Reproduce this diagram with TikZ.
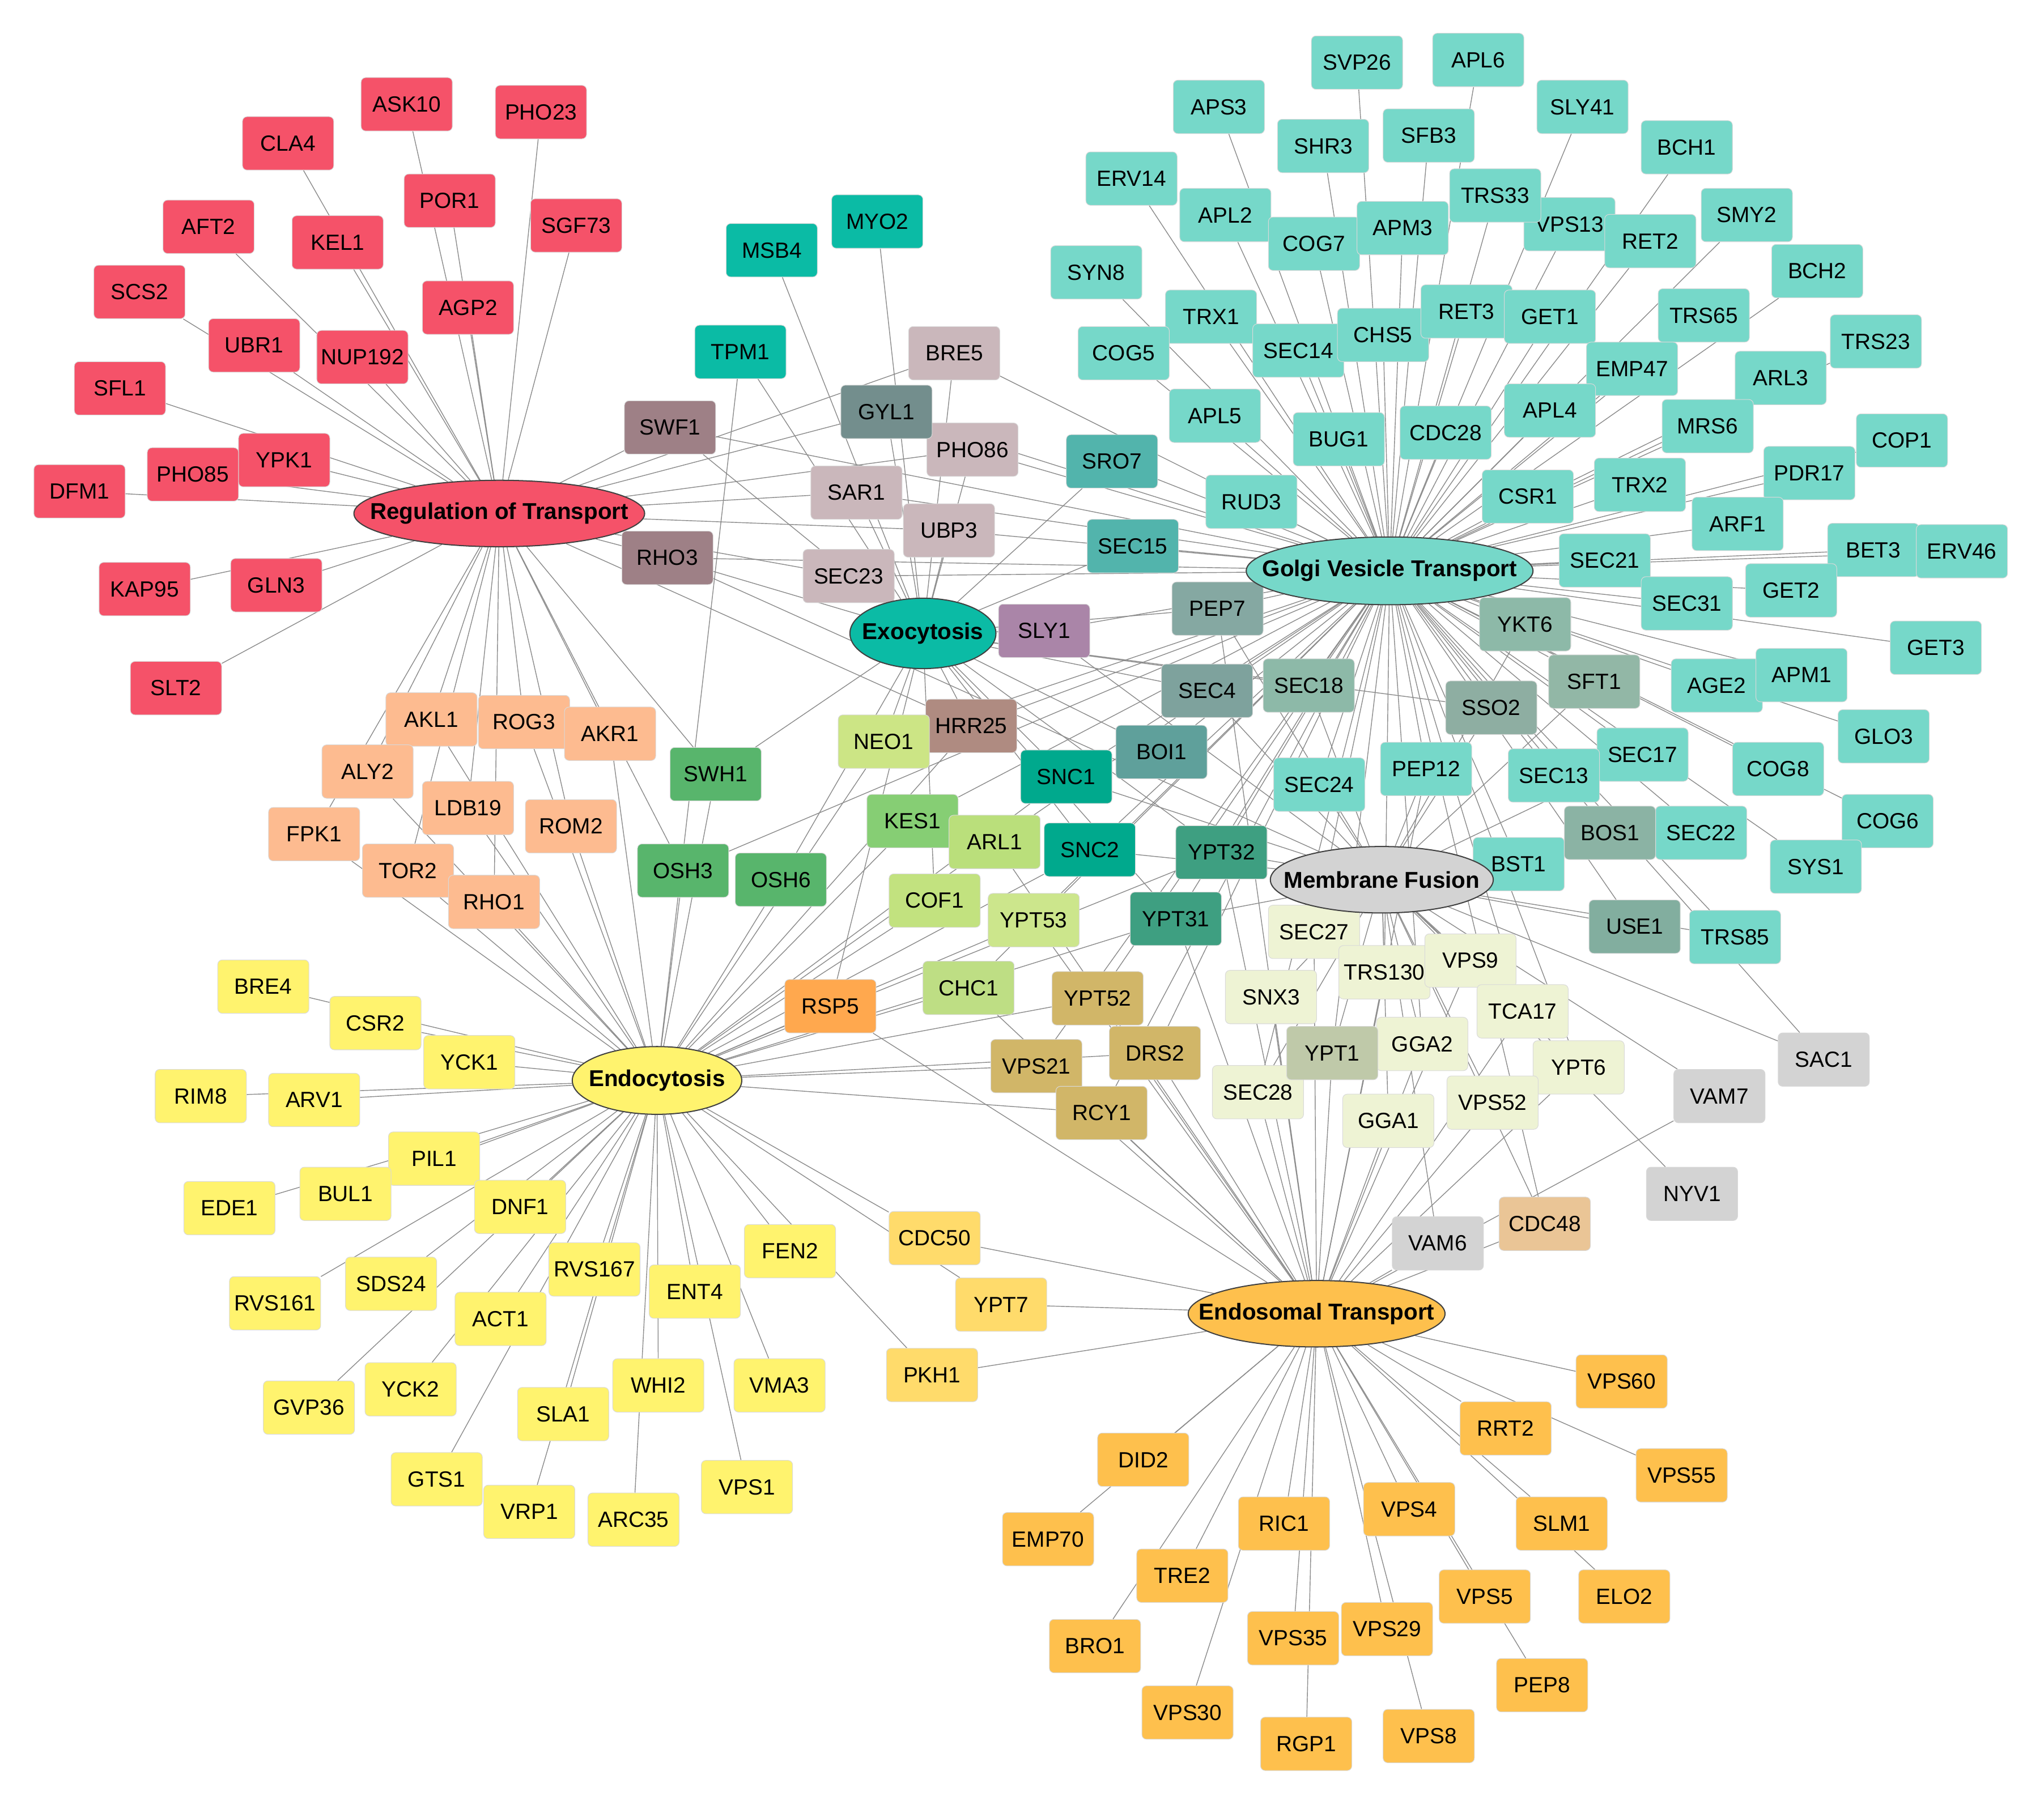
\documentclass[tikz,border=0pt]{standalone}
\usepackage{fontspec}
\setmainfont{Liberation Sans}
\usetikzlibrary{shapes.geometric,backgrounds}
\definecolor{cRed}{HTML}{F55269}
\definecolor{cMauve}{HTML}{9E8086}
\definecolor{cGyl}{HTML}{738E8D}
\definecolor{cPink}{HTML}{CAB7BB}
\definecolor{cSly}{HTML}{AA85A8}
\definecolor{cExo}{HTML}{0BBBA5}
\definecolor{cGolgi}{HTML}{76D8C9}
\definecolor{cSro}{HTML}{52B4AC}
\definecolor{cPep}{HTML}{85A8A2}
\definecolor{cSecf}{HTML}{7EA29D}
\definecolor{cYkt}{HTML}{8DB9A8}
\definecolor{cSft}{HTML}{92B7A6}
\definecolor{cSso}{HTML}{8EAEA2}
\definecolor{cBos}{HTML}{8BB3A4}
\definecolor{cUse}{HTML}{82AE9F}
\definecolor{cBoi}{HTML}{5FA09B}
\definecolor{cSnc}{HTML}{00A98D}
\definecolor{cYpt}{HTML}{3E9F81}
\definecolor{cHrr}{HTML}{AF8B81}
\definecolor{cNeo}{HTML}{CCE585}
\definecolor{cKes}{HTML}{86CE74}
\definecolor{cArl}{HTML}{BADF7B}
\definecolor{cCof}{HTML}{C2E27F}
\definecolor{cYptf}{HTML}{CCE68C}
\definecolor{cChc}{HTML}{BEDE84}
\definecolor{cOsh}{HTML}{58B56C}
\definecolor{cPeach}{HTML}{FDBB90}
\definecolor{cRsp}{HTML}{FFA84E}
\definecolor{cKhaki}{HTML}{D1B668}
\definecolor{cPale}{HTML}{EEF3D4}
\definecolor{cYptone}{HTML}{BFC9A9}
\definecolor{cGray}{HTML}{D3D3D3}
\definecolor{cCdc}{HTML}{EAC596}
\definecolor{cYellow}{HTML}{FFF36E}
\definecolor{cLtOrange}{HTML}{FFDB6B}
\definecolor{cOrange}{HTML}{FEC04D}
\tikzset{
  gene/.style={rectangle, rounded corners=0.7mm, minimum width=14mm, minimum height=8.2mm,
    inner sep=0pt, font=\fontsize{9.6}{11}\selectfont, fill=#1, draw=black!15, line width=0.25pt},
  hub/.style={ellipse, draw=black!75, line width=0.5pt, inner sep=0pt, fill=#1,
    font=\fontsize{10}{12}\selectfont\bfseries},
  link/.style={draw=black!45, line width=0.35pt}
}
\begin{document}
\begin{tikzpicture}[x=0.2mm, y=-0.2mm]
\useasboundingbox (0,0) rectangle (1568,1388);
% ---------- red ----------
\foreach \n/\x/\y in {ASK10/312/80, PHO23/415/86, CLA4/221/110, POR1/345/154, SGF73/442/173,
  AFT2/160/174, KEL1/259/186, AGP2/359/236, SCS2/107/224, UBR1/195/265, NUP192/278/274,
  SFL1/92/298, YPK1/218/353, PHO85/148/364, DFM1/61/377, KAP95/111/452, GLN3/212/449, SLT2/135/528}
  \node[gene=cRed] (\n) at (\x,\y) {\n};
\node[gene=cMauve] (SWF1) at (514,328) {SWF1};
\node[gene=cMauve] (RHO3) at (512,428) {RHO3};
\node[gene=cPink] (BRE5) at (732,271) {BRE5};
\node[gene=cPink] (PHO86) at (746,345) {PHO86};
\node[gene=cGyl] (GYL1) at (680,316) {GYL1};
\node[gene=cPink] (SAR1) at (657,378) {SAR1};
\node[gene=cPink] (UBP3) at (728,407) {UBP3};
\node[gene=cPink] (SEC23) at (651,442) {SEC23};
\node[gene=cSly] (SLY1) at (801,484) {SLY1};
\node[gene=cExo] (MSB4) at (592,192) {MSB4};
\node[gene=cExo] (MYO2) at (673,170) {MYO2};
\node[gene=cExo] (TPM1) at (568,270) {TPM1};
% ---------- golgi ----------
\foreach \n/\x/\y in {SVP26/1041/48, APL6/1134/46, APS3/935/82, SHR3/1015/112, SFB3/1096/104,
  SLY41/1214/82, BCH1/1294/113, ERV14/868/137, APL2/940/165, COG7/1008/187, APM3/1076/175,
  VPS13/1204/172, TRS33/1147/150, RET2/1266/185, SMY2/1340/165, SYN8/841/209, BCH2/1394/208,
  TRX1/929/243, SEC14/996/269, CHS5/1061/257, RET3/1125/239, GET1/1189/243, TRS65/1307/242,
  TRS23/1439/262, COG5/862/271, EMP47/1252/283, ARL3/1366/290, APL5/932/319, BUG1/1027/337,
  CDC28/1109/332, APL4/1189/315, MRS6/1310/327, COP1/1459/338, RUD3/960/385, CSR1/1172/381,
  TRX2/1258/372, PDR17/1388/363, ARF1/1333/402, SEC21/1231/430, BET3/1437/422, ERV46/1505/423,
  SEC31/1294/463, GET2/1374/453, GET3/1485/497, AGE2/1317/526, APM1/1382/518, GLO3/1445/565,
  SEC17/1260/579, COG8/1364/590, SEC13/1192/595, SEC22/1305/639, COG6/1448/630, SYS1/1393/665,
  BST1/1165/663, TRS85/1331/719, SEC24/1012/602, PEP12/1094/590}
  \node[gene=cGolgi] (\n) at (\x,\y) {\n};
\node[gene=cSro] (SRO7) at (853,354) {SRO7};
\node[gene=cSro] (SEC15) at (869,419) {SEC15};
\node[gene=cPep] (PEP7) at (934,467) {PEP7};
\node[gene=cYkt] (YKT6) at (1170,479) {YKT6};
\node[gene=cSecf] (SEC4) at (926,530) {SEC4};
\node[gene=cYkt] (SEC18) at (1004,526) {SEC18};
\node[gene=cSft] (SFT1) at (1223,523) {SFT1};
\node[gene=cSso] (SSO2) at (1144,543) {SSO2};
\node[gene=cBos] (BOS1) at (1235,639) {BOS1};
\node[gene=cUse] (USE1) at (1254,711) {USE1};
\node[gene=cBoi] (BOI1) at (891,577) {BOI1};
\node[gene=cSnc] (SNC1) at (818,596) {SNC1};
\node[gene=cSnc] (SNC2) at (836,652) {SNC2};
\node[gene=cYpt] (YPT32) at (937,654) {YPT32};
\node[gene=cYpt] (YPT31) at (902,705) {YPT31};
% ---------- middle greens ----------
\node[gene=cHrr] (HRR25) at (745,557) {HRR25};
\node[gene=cNeo] (NEO1) at (678,569) {NEO1};
\node[gene=cOsh] (SWH1) at (549,594) {SWH1};
\node[gene=cOsh] (OSH3) at (524,668) {OSH3};
\node[gene=cOsh] (OSH6) at (599,675) {OSH6};
\node[gene=cKes] (KES1) at (700,630) {KES1};
\node[gene=cArl] (ARL1) at (763,646) {ARL1};
\node[gene=cCof] (COF1) at (717,691) {COF1};
\node[gene=cYptf] (YPT53) at (793,706) {YPT53};
\node[gene=cChc] (CHC1) at (743,758) {CHC1};
\node[gene=cRsp] (RSP5) at (637,772) {RSP5};
\node[gene=cKhaki] (YPT52) at (842,766) {YPT52};
\node[gene=cKhaki] (VPS21) at (795,818) {VPS21};
\node[gene=cKhaki] (DRS2) at (886,808) {DRS2};
\node[gene=cKhaki] (RCY1) at (845,854) {RCY1};
% ---------- peach ----------
\foreach \n/\x/\y in {AKL1/331/552, ROG3/402/554, AKR1/468/563, ALY2/282/592, LDB19/359/620,
  ROM2/438/634, FPK1/241/640, TOR2/313/668, RHO1/379/692}
  \node[gene=cPeach] (\n) at (\x,\y) {\n};
% ---------- pale ----------
\foreach \n/\x/\y in {SEC27/1008/715, TRS130/1062/746, VPS9/1128/737, SNX3/975/765,
  TCA17/1168/776, GGA2/1091/801, YPT6/1211/819, SEC28/965/838, GGA1/1065/860, VPS52/1145/846}
  \node[gene=cPale] (\n) at (\x,\y) {\n};
\node[gene=cYptone] (YPT1) at (1022,808) {YPT1};
\node[gene=cGray] (VAM7) at (1319,841) {VAM7};
\node[gene=cGray] (SAC1) at (1399,813) {SAC1};
\node[gene=cGray] (NYV1) at (1298,916) {NYV1};
\node[gene=cGray] (VAM6) at (1103,954) {VAM6};
\node[gene=cCdc] (CDC48) at (1185,939) {CDC48};
% ---------- yellow ----------
\foreach \n/\x/\y in {BRE4/202/757, CSR2/288/785, YCK1/360/815, RIM8/154/841, ARV1/241/844,
  PIL1/333/889, BUL1/265/916, EDE1/176/927, DNF1/399/926, RVS161/211/1000, SDS24/300/985,
  RVS167/456/974, ENT4/533/991, FEN2/606/960, ACT1/384/1012, GVP36/237/1080, YCK2/315/1066,
  WHI2/505/1063, VMA3/598/1063, SLA1/432/1085, GTS1/335/1135, VRP1/406/1160, ARC35/486/1166,
  VPS1/573/1141}
  \node[gene=cYellow] (\n) at (\x,\y) {\n};
\node[gene=cLtOrange] (CDC50) at (717,950) {CDC50};
\node[gene=cLtOrange] (YPT7) at (768,1001) {YPT7};
\node[gene=cLtOrange] (PKH1) at (715,1055) {PKH1};
% ---------- orange ----------
\foreach \n/\x/\y in {VPS60/1244/1060, RRT2/1155/1096, VPS55/1290/1132, DID2/877/1120,
  RIC1/985/1169, VPS4/1081/1158, SLM1/1198/1169, EMP70/804/1181, TRE2/907/1209, VPS5/1139/1225,
  ELO2/1246/1225, BRO1/840/1263, VPS35/992/1257, VPS29/1064/1250, PEP8/1183/1293,
  VPS30/911/1314, RGP1/1002/1338, VPS8/1096/1332}
  \node[gene=cOrange] (\n) at (\x,\y) {\n};
% ---------- hubs (on top of the gene boxes) ----------
\node[hub=cRed, minimum width=44.6mm, minimum height=10.2mm] (RoT) at (383,394) {\makebox[0pt]{Regulation of Transport}};
\node[hub=cExo, minimum width=22.4mm, minimum height=10.8mm] (Exo) at (708,486) {\makebox[0pt]{Exocytosis}};
\node[hub=cGolgi, minimum width=44mm, minimum height=10.4mm] (GVT) at (1066,438) {\makebox[0pt]{Golgi Vesicle Transport}};
\node[hub=cGray, minimum width=34.2mm, minimum height=10.2mm] (MF) at (1060,675) {\makebox[0pt]{Membrane Fusion}};
\node[hub=cYellow, minimum width=26mm, minimum height=10.4mm] (Endo) at (504,829) {\makebox[0pt]{Endocytosis}};
\node[hub=cOrange, minimum width=39.4mm, minimum height=10.2mm] (EnT) at (1010,1008) {\makebox[0pt]{Endosomal Transport}};
% ---------- connectors ----------
\begin{pgfonlayer}{background}
\foreach \n in {ASK10,PHO23,CLA4,POR1,SGF73,AFT2,KEL1,AGP2,SCS2,UBR1,NUP192,SFL1,YPK1,PHO85,
  DFM1,KAP95,GLN3,SLT2,SWF1,RHO3,GYL1,BRE5,PHO86,SAR1,UBP3,SEC23,AKL1,ROG3,AKR1,ALY2,LDB19,
  ROM2,FPK1,TOR2,RHO1,HRR25,SWH1,OSH3}
  \draw[link] (RoT) -- (\n);
\foreach \n in {MSB4,MYO2,TPM1,SWF1,RHO3,GYL1,BRE5,PHO86,SAR1,UBP3,SEC23,SLY1,SRO7,SEC15,PEP7,
  SEC4,SEC18,BOI1,SSO2,SNC1,SNC2,YPT32,YPT31,HRR25,NEO1,COF1,SWH1,OSH6,RSP5}
  \draw[link] (Exo) -- (\n);
\foreach \n in {SVP26,APL6,APS3,SHR3,SFB3,SLY41,BCH1,ERV14,APL2,TRS33,COG7,APM3,VPS13,RET2,SMY2,
  SYN8,BCH2,TRX1,SEC14,CHS5,RET3,GET1,TRS65,TRS23,COG5,EMP47,ARL3,APL5,BUG1,CDC28,APL4,MRS6,
  COP1,RUD3,CSR1,TRX2,PDR17,ARF1,SEC21,BET3,ERV46,SEC31,GET2,GET3,AGE2,APM1,GLO3,SEC17,COG8,
  SEC13,SEC22,COG6,SYS1,BST1,TRS85,SEC24,PEP12,
  SWF1,RHO3,GYL1,BRE5,PHO86,SAR1,UBP3,SEC23,SLY1,SRO7,SEC15,PEP7,SEC4,SEC18,BOI1,YKT6,SFT1,SSO2,
  BOS1,USE1,SNC1,SNC2,YPT32,YPT31,HRR25,NEO1,KES1,ARL1,YPT53,CHC1,OSH3,YPT52,VPS21,DRS2,RCY1,
  SEC27,TRS130,TCA17,YPT1,GGA2,YPT6,SEC28,SAC1,CDC48}
  \draw[link] (GVT) -- (\n);
\foreach \n in {RHO3,SLY1,PEP7,SEC4,SEC18,YKT6,SFT1,SSO2,BOS1,USE1,SNC1,SNC2,SEC17,SEC22,BST1,
  SEC24,PEP12,SEC27,TRS130,VPS9,SNX3,TCA17,YPT1,GGA2,YPT6,SEC28,GGA1,VPS52,VAM7,SAC1,NYV1,VAM6,
  CDC48,YPT32,YPT31,TRS85}
  \draw[link] (MF) -- (\n);
\foreach \n in {BRE4,CSR2,YCK1,RIM8,ARV1,PIL1,BUL1,EDE1,DNF1,RVS161,SDS24,RVS167,ENT4,FEN2,ACT1,
  GVP36,YCK2,WHI2,VMA3,SLA1,GTS1,VRP1,ARC35,VPS1,
  AKL1,ROG3,AKR1,ALY2,LDB19,ROM2,FPK1,TOR2,RHO1,SWH1,OSH3,OSH6,NEO1,KES1,ARL1,COF1,YPT53,CHC1,
  RSP5,YPT52,VPS21,DRS2,RCY1,SNC1,SNC2,YPT32,YPT31,HRR25,CDC50,YPT7,PKH1,TPM1}
  \draw[link] (Endo) -- (\n);
\foreach \n in {VPS60,RRT2,VPS55,DID2,RIC1,VPS4,SLM1,EMP70,TRE2,VPS5,ELO2,BRO1,VPS35,VPS29,PEP8,
  VPS30,RGP1,VPS8,CDC50,YPT7,PKH1,VAM6,CDC48,VAM7,SEC27,TRS130,VPS9,SNX3,TCA17,YPT1,GGA2,YPT6,
  SEC28,GGA1,VPS52,YPT52,VPS21,DRS2,RCY1,RSP5,PEP7,PEP12,YPT32,YPT31,ARL1,YPT53,CHC1}
  \draw[link] (EnT) -- (\n);
\end{pgfonlayer}
\end{tikzpicture}
\end{document}
